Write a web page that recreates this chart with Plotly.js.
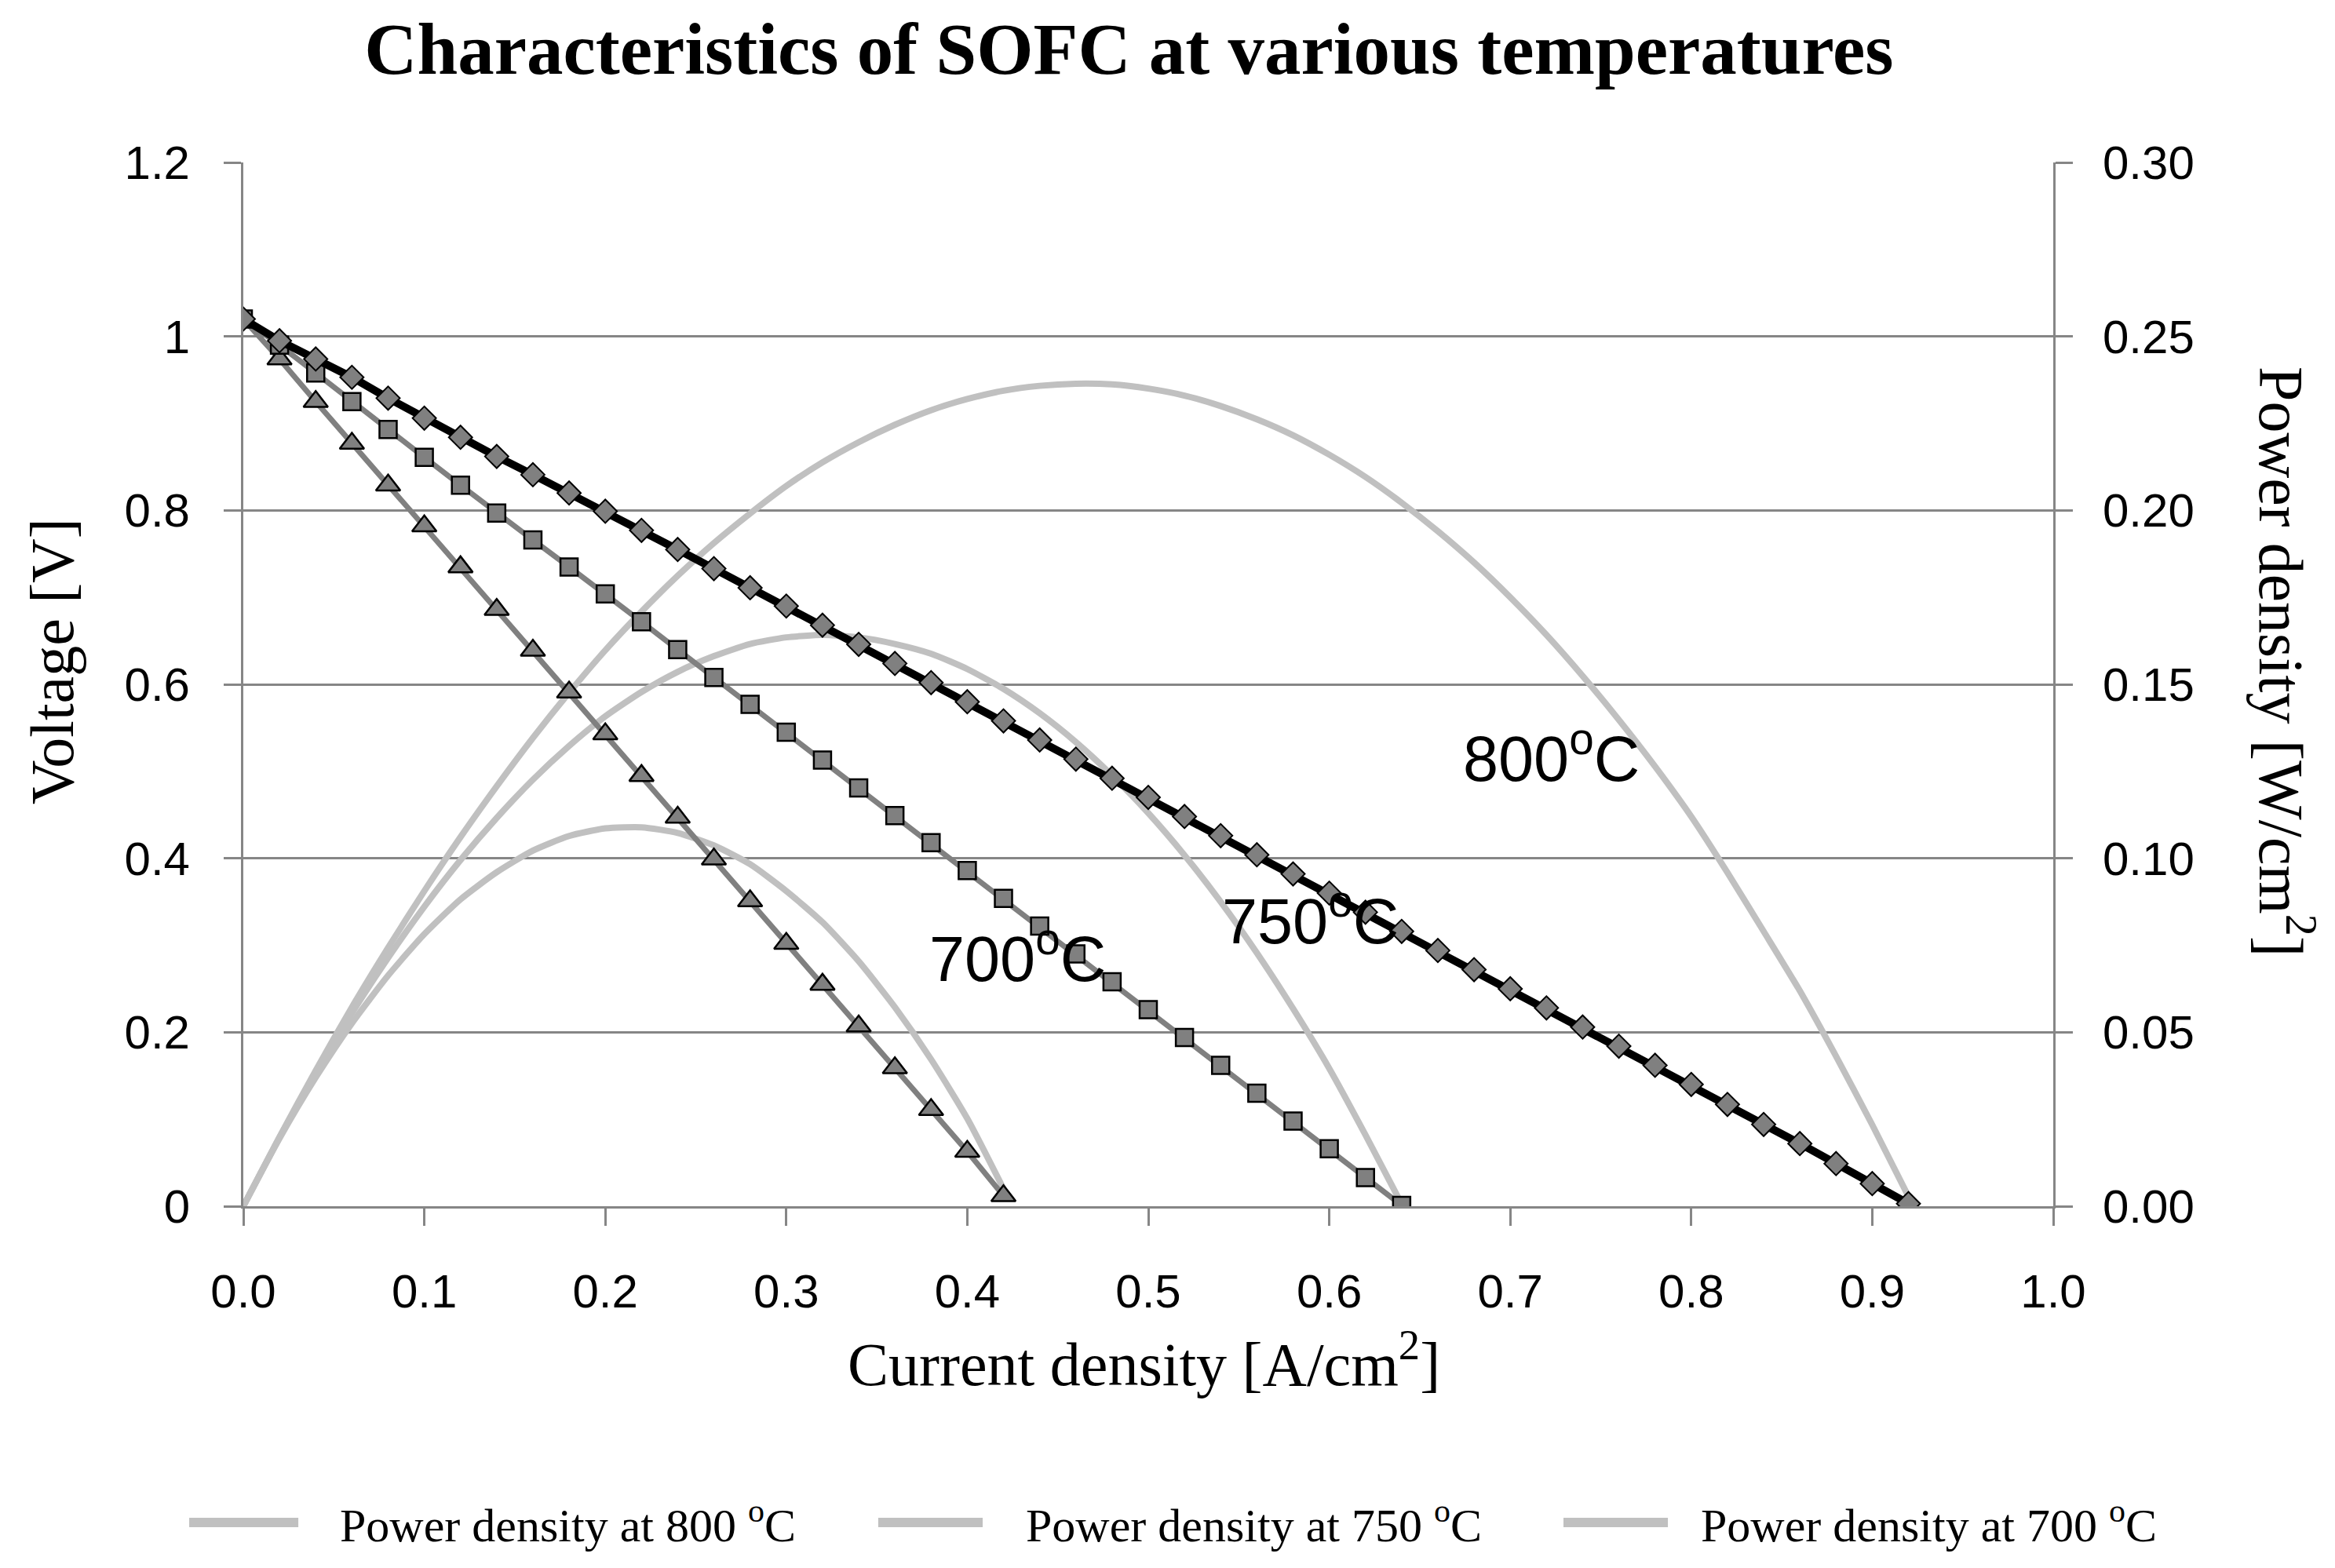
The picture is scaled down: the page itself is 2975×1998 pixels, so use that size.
<!DOCTYPE html>
<html>
<head>
<meta charset="utf-8">
<script src="https://cdn.plot.ly/plotly-3.0.1.min.js"></script>
<style>html,body{margin:0;padding:0;background:#fff;}#chart{width:2975px;height:1998px;}</style>
</head>
<body>
<div id="chart"></div>
<script>
// Current density [A/cm2]
const current800 = [0.00,0.02,0.04,0.06,0.08,0.10,0.12,0.14,0.16,0.18,0.20,0.22,0.24,0.26,0.28,0.30,0.32,0.34,0.36,0.38,0.40,0.42,0.44,0.46,0.48,0.50,0.52,0.54,0.56,0.58,0.60,0.62,0.64,0.66,0.68,0.70,0.72,0.74,0.76,0.78,0.80,0.82,0.84,0.86,0.88,0.90,0.92];
const current750 = [0.00,0.02,0.04,0.06,0.08,0.10,0.12,0.14,0.16,0.18,0.20,0.22,0.24,0.26,0.28,0.30,0.32,0.34,0.36,0.38,0.40,0.42,0.44,0.46,0.48,0.50,0.52,0.54,0.56,0.58,0.60,0.62,0.64];
const current700 = [0.00,0.02,0.04,0.06,0.08,0.10,0.12,0.14,0.16,0.18,0.20,0.22,0.24,0.26,0.28,0.30,0.32,0.34,0.36,0.38,0.40,0.42];

// Voltage [V]
const voltage800 = [1.020,0.995,0.974,0.953,0.929,0.906,0.884,0.862,0.841,0.820,0.799,0.777,0.755,0.733,0.711,0.690,0.668,0.646,0.624,0.602,0.580,0.558,0.536,0.514,0.492,0.470,0.448,0.426,0.404,0.382,0.360,0.338,0.316,0.294,0.272,0.250,0.228,0.206,0.184,0.162,0.140,0.117,0.094,0.072,0.049,0.026,0.003];
const voltage750 = [1.020,0.990,0.958,0.925,0.893,0.861,0.829,0.797,0.766,0.735,0.704,0.672,0.640,0.608,0.577,0.545,0.513,0.481,0.449,0.418,0.386,0.354,0.322,0.290,0.258,0.226,0.194,0.162,0.130,0.098,0.066,0.033,0.001];
const voltage700 = [1.020,0.974,0.925,0.877,0.829,0.782,0.735,0.686,0.639,0.591,0.543,0.495,0.447,0.399,0.351,0.302,0.255,0.207,0.159,0.111,0.063,0.012];

// Power density [W/cm2]
const power800 = [0.0000,0.0199,0.0390,0.0572,0.0743,0.0906,0.1061,0.1207,0.1346,0.1476,0.1598,0.1709,0.1812,0.1906,0.1991,0.2070,0.2138,0.2196,0.2246,0.2288,0.2320,0.2344,0.2358,0.2364,0.2362,0.2350,0.2330,0.2300,0.2262,0.2216,0.2160,0.2096,0.2022,0.1940,0.1850,0.1750,0.1642,0.1524,0.1398,0.1264,0.1120,0.0959,0.0790,0.0619,0.0431,0.0234,0.0028];
const power750 = [0.0000,0.0198,0.0383,0.0555,0.0714,0.0861,0.0995,0.1116,0.1226,0.1323,0.1408,0.1478,0.1536,0.1581,0.1616,0.1635,0.1642,0.1635,0.1616,0.1588,0.1544,0.1487,0.1417,0.1334,0.1238,0.1130,0.1009,0.0875,0.0728,0.0568,0.0396,0.0205,0.0006];
const power700 = [0.0000,0.0195,0.0370,0.0526,0.0663,0.0782,0.0882,0.0960,0.1022,0.1064,0.1086,0.1089,0.1073,0.1037,0.0983,0.0906,0.0816,0.0704,0.0572,0.0422,0.0252,0.0050];

const legendNames = ['Power density at 800 <sup>o</sup>C','Power density at 750 <sup>o</sup>C','Power density at 700 <sup>o</sup>C'];
const curveLabels = ['800<sup>o</sup>C','750<sup>o</sup>C','700<sup>o</sup>C'];

const gridCol = '#868686';
const powerCol = '#c0c0c0';
const grayLine = '#808080';

const traces = [
  {x: current800, y: power800, name: legendNames[0], type:'scatter', mode:'lines', yaxis:'y', line:{color:powerCol, width:8, shape:'spline', smoothing:0.6}},
  {x: current750, y: power750, name: legendNames[1], type:'scatter', mode:'lines', yaxis:'y', line:{color:powerCol, width:8, shape:'spline', smoothing:0.6}},
  {x: current700, y: power700, name: legendNames[2], type:'scatter', mode:'lines', yaxis:'y', line:{color:powerCol, width:8, shape:'spline', smoothing:0.6}},
  {x: current700, y: voltage700, name:'Voltage at 700 °C', type:'scatter', mode:'lines+markers', yaxis:'y2',
    line:{color:grayLine, width:7}, marker:{symbol:'triangle-up', size:27, color:grayLine, line:{color:'#000', width:2.5}}},
  {x: current750, y: voltage750, name:'Voltage at 750 °C', type:'scatter', mode:'lines+markers', yaxis:'y2',
    line:{color:grayLine, width:7}, marker:{symbol:'square', size:22, color:grayLine, line:{color:'#000', width:2.5}}},
  {x: current800, y: voltage800, name:'Voltage at 800 °C', type:'scatter', mode:'lines+markers', yaxis:'y2',
    line:{color:'#000', width:10}, marker:{symbol:'diamond', size:23, color:grayLine, line:{color:'#000', width:2}}}
];

const sans = 'Liberation Sans, Arial, sans-serif';
const serif = 'Liberation Serif, Times New Roman, serif';
const tickFont = {family:sans, size:60, color:'#000'};

// custom legend (Excel style, wide line samples)
const legendY = -0.303;
const legendLines = [[-0.0299, 0.0304], [0.3508, 0.4085], [0.7294, 0.7871]];
const legendTextX = [0.0525, 0.4315, 0.8044];
const shapes = legendLines.map(p => ({type:'line', xref:'paper', yref:'paper', x0:p[0], x1:p[1], y0:legendY, y1:legendY,
  line:{color:powerCol, width:12}}));
const legendAnn = legendNames.map((t,i) => ({xref:'paper', yref:'paper', x:legendTextX[i], y:legendY, text:t, showarrow:false,
  xanchor:'left', yanchor:'middle', font:{family:serif, size:60, color:'#000'}}));

const layout = {
  width:2975, height:1998,
  paper_bgcolor:'#fff', plot_bgcolor:'#fff',
  showlegend:false,
  margin:{l:310, r:359, t:207, b:461, pad:0},
  title:{text:'<b>Characteristics of SOFC at various temperatures</b>', font:{family:serif, size:93, color:'#000'}, x:0.4835, xanchor:'center', y:0.969, yanchor:'middle'},
  xaxis:{range:[0,1], dtick:0.1, tick0:0, tickformat:'.1f', showgrid:false, zeroline:false,
    showline:true, linecolor:gridCol, linewidth:3, ticks:'outside', ticklen:22, tickwidth:3, tickcolor:gridCol,
    tickfont:tickFont, ticklabelstandoff:32},
  yaxis:{range:[0,0.3], dtick:0.05, tick0:0, tickformat:'.2f', side:'right', showgrid:true, gridcolor:gridCol, gridwidth:3,
    zeroline:false, showline:true, linecolor:gridCol, linewidth:3, ticks:'outside', ticklen:22, tickwidth:3, tickcolor:gridCol,
    tickfont:tickFont, ticklabelstandoff:26},
  yaxis2:{range:[0,1.2], dtick:0.2, tick0:0, overlaying:'y', side:'left', showgrid:false, zeroline:false,
    showline:true, linecolor:gridCol, linewidth:3, ticks:'outside', ticklen:22, tickwidth:3, tickcolor:gridCol,
    tickfont:tickFont, ticklabelstandoff:31},
  shapes: shapes,
  annotations:[
    {xref:'paper', yref:'paper', x:(1457-310)/2306, y:(1537-1732)/1330, text:'Current density [A/cm<sup>2</sup>]', showarrow:false,
      font:{family:serif, size:78, color:'#000'}, xanchor:'center', yanchor:'middle'},
    {xref:'paper', yref:'paper', x:(66-310)/2306, y:(1537-843)/1330, text:'Voltage [V]', textangle:-90, showarrow:false,
      font:{family:serif, size:78, color:'#000'}, xanchor:'center', yanchor:'middle'},
    {xref:'paper', yref:'paper', x:(2913-310)/2306, y:(1537-843)/1330, text:'Power density [W/cm<sup>2</sup>]', textangle:90, showarrow:false,
      font:{family:serif, size:80, color:'#000'}, xanchor:'center', yanchor:'middle'},
    {xref:'x', yref:'y2', x:0.7226, y:0.520, text:curveLabels[0], showarrow:false, font:{family:sans, size:81, color:'#000'}},
    {xref:'x', yref:'y2', x:0.5895, y:0.333, text:curveLabels[1], showarrow:false, font:{family:sans, size:81, color:'#000'}},
    {xref:'x', yref:'y2', x:0.4278, y:0.290, text:curveLabels[2], showarrow:false, font:{family:sans, size:81, color:'#000'}}
  ].concat(legendAnn)
};

Plotly.newPlot('chart', traces, layout, {staticPlot:true, displayModeBar:false});
</script>
</body>
</html>
